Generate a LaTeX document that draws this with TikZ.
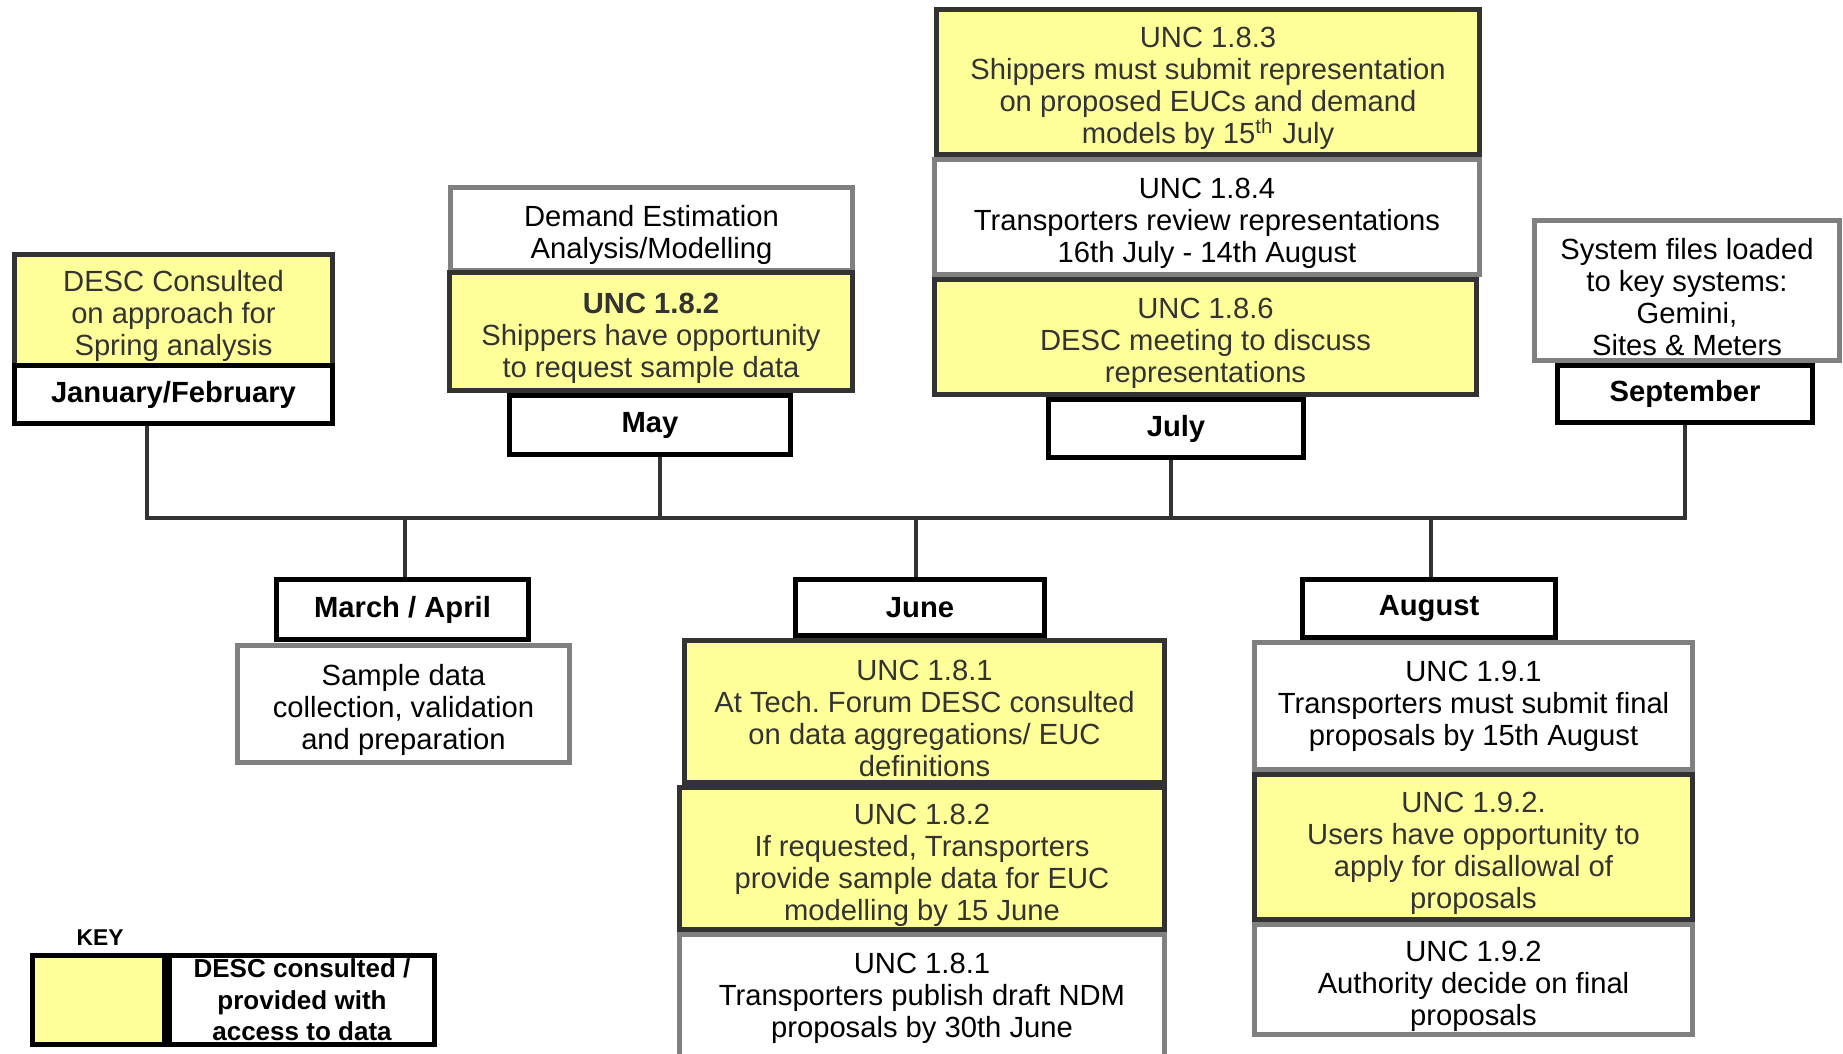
\documentclass[tikz,border=0pt]{standalone}
\usepackage{fontspec}
\setmainfont{Liberation Sans}
\definecolor{keyyellow}{HTML}{FFFF99}
\definecolor{edgegray}{HTML}{808080}
\definecolor{darkline}{HTML}{333333}
\newcommand{\boxfont}{\fontsize{8.3}{9.1}\selectfont}
\newcommand{\monthfont}{\fontsize{8.3}{10}\selectfont\bfseries}
\newcommand{\keyfont}{\fontsize{7.4}{9}\selectfont\bfseries}
\newcommand{\dn}{\rule{0pt}{9.5pt}}
\frenchspacing

\begin{document}
\begin{tikzpicture}[x=0.01cm,y=-0.01cm,
  box/.style={line width=1.4pt,inner sep=0pt,align=center,font=\boxfont},
  desc/.style={box,draw=darkline,fill=keyyellow,text=darkline},
  info/.style={box,draw=edgegray,fill=white,text=black},
  month/.style={box,draw=black,fill=white,font=\monthfont},
  link/.style={line width=1.4pt,draw=darkline}]
\useasboundingbox (0,0) rectangle (1843,1053);

% taps on the time line
\coordinate (jt) at (147,518);
\coordinate (mt) at (405,518);
\coordinate (yt) at (660,518);
\coordinate (ut) at (916,518);
\coordinate (lt) at (1171,518);
\coordinate (at) at (1431,518);
\coordinate (st) at (1685,518);

% upper row
\node[desc,minimum width=3.18cm,minimum height=1.11cm] (janinfo) at (173.5,310) {\dn DESC Consulted\\on approach for\\Spring analysis};
\node[month,minimum width=3.18cm,minimum height=0.58cm] (jan) at (173.5,394.5) {January/February};

\node[info,minimum width=4.02cm,minimum height=0.83cm] (demand) at (651.5,229) {\dn Demand Estimation\\Analysis/Modelling};
\node[desc,minimum width=4.03cm,minimum height=1.18cm] (req182) at (651,331.5) {\dn\textbf{UNC 1.8.2}\\Shippers have opportunity\\to request sample data};
\node[month,minimum width=2.81cm,minimum height=0.59cm] (may) at (650,425) {May};

\node[desc,minimum width=5.43cm,minimum height=1.45cm] (rep183) at (1208,82) {\dn UNC 1.8.3\\Shippers must submit representation\\on proposed EUCs and demand\\models by 15\textsuperscript{th} July};
\node[info,minimum width=5.45cm,minimum height=1.15cm] (rev184) at (1207,217) {\dn UNC 1.8.4\\Transporters review representations\\16th July - 14th August};
\node[desc,minimum width=5.42cm,minimum height=1.15cm] (meet186) at (1205.5,337) {\dn UNC 1.8.6\\DESC meeting to discuss\\representations};
\node[month,minimum width=2.55cm,minimum height=0.58cm] (july) at (1176,428.5) {July};

\node[info,minimum width=3.05cm,minimum height=1.40cm] (sysfiles) at (1687,290.5) {\dn System files loaded\\to key systems:\\Gemini,\\Sites \& Meters};
\node[month,minimum width=2.55cm,minimum height=0.57cm] (sept) at (1685,394) {September};

% lower row
\node[info,minimum width=3.32cm,minimum height=1.17cm] (sample) at (403.5,704) {\dn Sample data\\collection, validation\\and preparation};
\node[month,minimum width=2.52cm,minimum height=0.60cm] (marapr) at (402.5,609.5) {March / April};

\node[desc,minimum width=4.80cm,minimum height=1.42cm] (forum181) at (924.5,711.5) {\dn UNC 1.8.1\\At Tech. Forum DESC consulted\\on data aggregations/ EUC\\definitions};
\node[desc,minimum width=4.85cm,minimum height=1.42cm] (data182) at (922,858.5) {\dn UNC 1.8.2\\If requested, Transporters\\provide sample data for EUC\\modelling by 15 June};
\node[info,minimum width=4.85cm,minimum height=1.28cm] (draft181) at (922,998.5) {UNC 1.8.1\\Transporters publish draft NDM\\proposals by 30th June};
\node[month,minimum width=2.49cm,minimum height=0.56cm] (june) at (920,607.5) {June};

\node[info,minimum width=4.38cm,minimum height=1.27cm] (final191) at (1473.5,706) {UNC 1.9.1\\Transporters must submit final\\proposals by 15th August};
\node[desc,minimum width=4.38cm,minimum height=1.45cm] (users192) at (1473.5,847) {\dn UNC 1.9.2.\\Users have opportunity to\\apply for disallowal of\\proposals};
\node[info,minimum width=4.38cm,minimum height=1.10cm] (auth192) at (1473.5,979.5) {\dn UNC 1.9.2\\Authority decide on final\\proposals};
\node[month,minimum width=2.53cm,minimum height=0.58cm] (aug) at (1429,608.5) {August};

% time line
\draw[link] (jt |- jan.south) -- (jt) -- (st) -- (st |- sept.south);
\draw[link] (yt |- may.south) -- (yt);
\draw[link] (lt |- july.south) -- (lt);
\draw[link] (mt) -- (mt |- marapr.north);
\draw[link] (ut) -- (ut |- june.north);
\draw[link] (at) -- (at |- aug.north);

% key
\node[font=\fontsize{6.5}{8}\selectfont\bfseries] (keylbl) at (100,938) {KEY};
\node[box,draw=black,fill=keyyellow,minimum width=1.32cm,minimum height=0.89cm] (keyswatch) at (98.5,1000) {};
\node[box,draw=black,fill=white,font=\keyfont,minimum width=2.65cm,minimum height=0.89cm] (keytext) at (302,1000) {DESC consulted /\\provided with\\access to data};
\end{tikzpicture}
\end{document}
